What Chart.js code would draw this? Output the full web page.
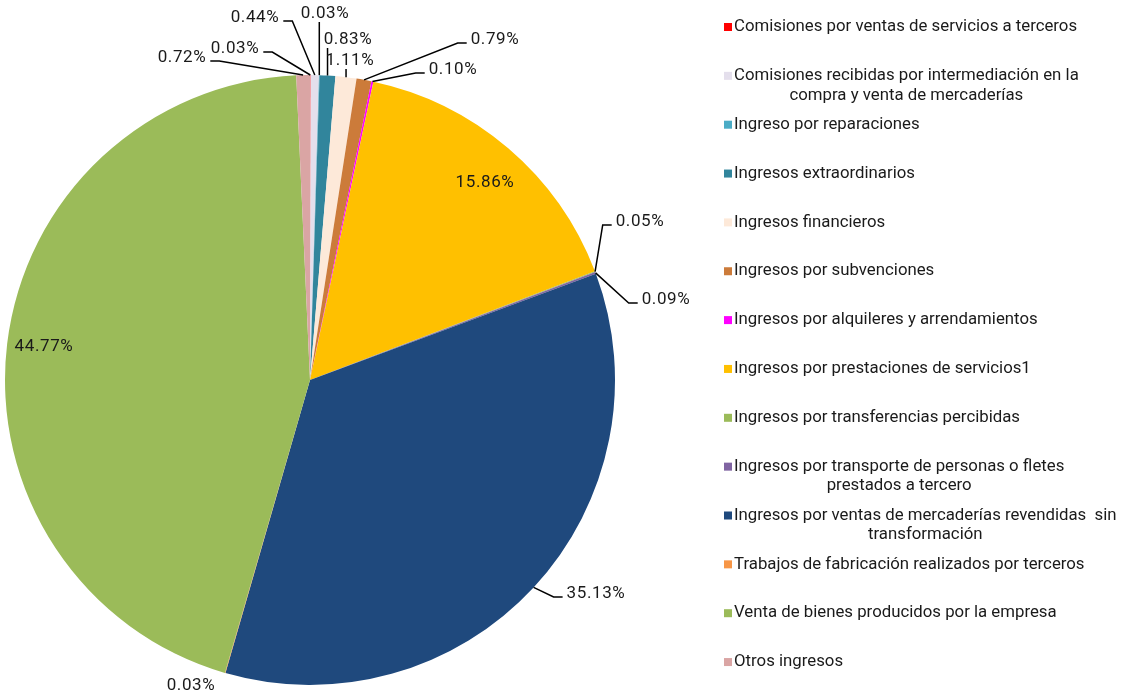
<!DOCTYPE html>
<html>
<head>
<meta charset="utf-8">
<title>Ingresos</title>
<script src="https://cdn.jsdelivr.net/npm/chart.js@4/dist/chart.umd.min.js"></script>
<style>
  html, body { margin: 0; padding: 0; background: #fff; }
  #wrap { position: relative; width: 1131px; height: 695px; }
</style>
</head>
<body>
<div id="wrap"><canvas id="chartIngresos"></canvas></div>
<script>
// categorias y porcentajes (en el orden de la leyenda, sentido horario desde arriba)
var categorias = [
    'Comisiones por ventas de servicios a terceros',
    'Comisiones recibidas por intermediación en la compra y venta de mercaderías',
    'Ingreso por reparaciones',
    'Ingresos extraordinarios',
    'Ingresos financieros',
    'Ingresos por subvenciones',
    'Ingresos por alquileres y arrendamientos',
    'Ingresos por prestaciones de servicios1',
    'Ingresos por transferencias percibidas',
    'Ingresos por transporte de personas o fletes prestados a tercero',
    'Ingresos por ventas de mercaderías revendidas  sin transformación',
    'Trabajos de fabricación realizados por terceros',
    'Venta de bienes producidos por la empresa',
    'Otros ingresos'
];
var porcentajes = [0.03, 0.44, 0.03, 0.83, 1.11, 0.79, 0.10, 15.86, 0.05, 0.09, 35.13, 0.03, 44.77, 0.72];

var colores = ['#FF0000', '#E4DFEC', '#4BACC6', '#31859C', '#FDE9D9', '#CC7B3A', '#FF00FF',
               '#FFC000', '#9BBB59', '#8064A2', '#1F497D', '#F79646', '#9BBB59', '#DAA5A4'];

// donde va cada etiqueta (desplazamiento desde el centro del pastel) y tipo de guia
// 'h' = tramo horizontal y diagonal, 'v' = linea vertical, null = sin guia
var posEtiquetas = [
    [-75, -331, 'h'], [-55, -362, 'h'], [15, -366, 'v'], [38, -340, 'v'],
    [40, -319, 'v'], [185, -340, 'h'], [143, -310, 'h'], [175, -197, null],
    [330, -158, 'h'], [356, -80, 'h'], [286, 214, 'h'], [-119, 306, null],
    [-266, -33, null], [-128, -322, 'h']
];

var FUENTE = 'Roboto, "Noto Sans", sans-serif';

var etiquetasPlugin = {
    id: 'etiquetas',
    afterDatasetsDraw: function (chart) {
        var ctx = chart.ctx;
        var meta = chart.getDatasetMeta(0);
        ctx.save();
        ctx.font = '17px ' + FUENTE;
        ctx.letterSpacing = '0.6px';
        ctx.textBaseline = 'middle';
        ctx.textAlign = 'center';
        meta.data.forEach(function (arc, i) {
            var p = arc.getProps(['x', 'y', 'startAngle', 'endAngle', 'outerRadius'], true);
            var mid = (p.startAngle + p.endAngle) / 2;
            var ax = p.x + Math.cos(mid) * p.outerRadius;
            var ay = p.y + Math.sin(mid) * p.outerRadius;
            var txt = porcentajes[i].toFixed(2) + '%';
            var lx = p.x + posEtiquetas[i][0];
            var ly = p.y + posEtiquetas[i][1];
            var w = ctx.measureText(txt).width;
            var tipo = posEtiquetas[i][2];

            ctx.strokeStyle = '#000';
            ctx.lineWidth = 1.5;
            if (tipo === 'h') {
                var lado = ax > lx ? 1 : -1;
                var x0 = lx + lado * (w / 2 + 4);
                var y0 = ly + 3;
                ctx.beginPath();
                ctx.moveTo(x0, y0);
                ctx.lineTo(x0 + lado * 9, y0);
                ctx.lineTo(ax, ay);
                ctx.stroke();
            } else if (tipo === 'v') {
                ctx.beginPath();
                ctx.moveTo(ax, ly + 8);
                ctx.lineTo(ax, ay);
                ctx.stroke();
            }
            ctx.fillStyle = '#1a1a1a';
            ctx.fillText(txt, lx, ly);
        });
        ctx.restore();
    }
};

// leyenda a la derecha, con texto partido en lineas centradas
var leyendaPlugin = {
    id: 'leyendaDerecha',
    afterDraw: function (chart) {
        var ctx = chart.ctx;
        var x = 724, y = 27, paso = 48.85, anchoMax = 392;
        ctx.save();
        ctx.font = '16.8px ' + FUENTE;
        ctx.textBaseline = 'middle';
        categorias.forEach(function (cat, i) {
            var palabras = cat.split(' ');
            var lineas = [], actual = '';
            palabras.forEach(function (pal) {
                var prueba = actual === '' ? pal : actual + ' ' + pal;
                if (ctx.measureText(prueba).width > anchoMax && actual !== '') {
                    lineas.push(actual);
                    actual = pal;
                } else {
                    actual = prueba;
                }
            });
            lineas.push(actual);
            var anchos = lineas.map(function (l) { return ctx.measureText(l).width; });
            var maxW = Math.max.apply(null, anchos);
            var cy = y + i * paso;
            ctx.fillStyle = colores[i];
            ctx.fillRect(x, cy - 4, 8, 8);
            ctx.fillStyle = '#1a1a1a';
            ctx.textAlign = 'center';
            lineas.forEach(function (l, k) {
                ctx.fillText(l, x + 10 + maxW / 2, cy + k * 19.5);
            });
        });
        ctx.restore();
    }
};

var ctx = document.getElementById('chartIngresos');
var chartIngresos = new Chart(ctx, {
    type: 'pie',
    data: {
        labels: categorias,
        datasets: [{
            data: porcentajes,
            backgroundColor: colores,
            borderWidth: 0
        }]
    },
    options: {
        responsive: true,
        maintainAspectRatio: false,
        animation: false,
        layout: {
            padding: { left: 5, top: 75, right: 516, bottom: 10 }
        },
        plugins: {
            legend: { display: false },
            tooltip: { enabled: false }
        }
    },
    plugins: [etiquetasPlugin, leyendaPlugin]
});
</script>
</body>
</html>
